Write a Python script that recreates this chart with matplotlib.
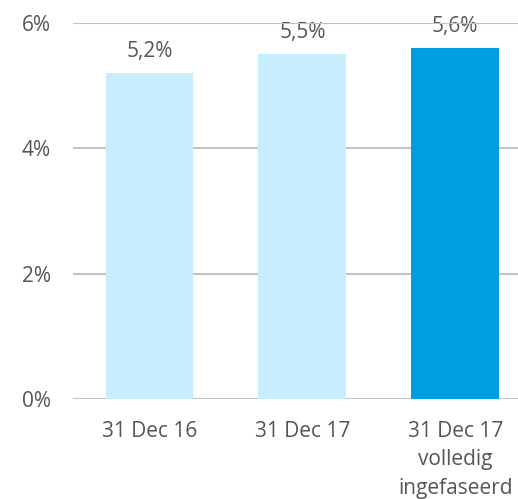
import matplotlib.pyplot as plt
import numpy as np

categories = ["31 Dec 16", "31 Dec 17", "31 Dec 17\nvolledig\ningefaseerd"]
values = [5.2, 5.5, 5.6]
labels = ["5,2%", "5,5%", "5,6%"]
colors = ["#c6eefc", "#c6eefc", "#009ee0"]
yticks = [0, 2, 4, 6]

plt.rcParams['font.family'] = ['Open Sans', 'DejaVu Sans']

fig = plt.figure(figsize=(5.18, 4.99), dpi=100)
ax = fig.add_axes([0.141, 0.2004, 0.859, 0.7535])

x = np.arange(len(categories))
ax.bar(x, values, width=0.575, color=colors, zorder=3)

for xi, v, lab in zip(x, values, labels):
    ax.annotate(lab, (xi, v), xytext=(0, 8), textcoords="offset points",
                ha="center", va="bottom", fontsize=15, color="#555555", zorder=1)

ax.set_xlim(-0.5, 2.41)
ax.set_ylim(0, 6)
ax.set_yticks(yticks)
ax.set_yticklabels([f"{t}%" for t in yticks])
ax.set_xticks(x)
ax.set_xticklabels(categories, linespacing=1.45)
ax.grid(axis="y", color="#c3c3c3", linewidth=1.5, zorder=0)
ax.tick_params(axis="both", length=0, labelsize=15, labelcolor="#555555")
ax.tick_params(axis="y", pad=16)
ax.tick_params(axis="x", pad=16)
for s in ax.spines.values():
    s.set_visible(False)

fig.savefig("out.png", dpi=100)
